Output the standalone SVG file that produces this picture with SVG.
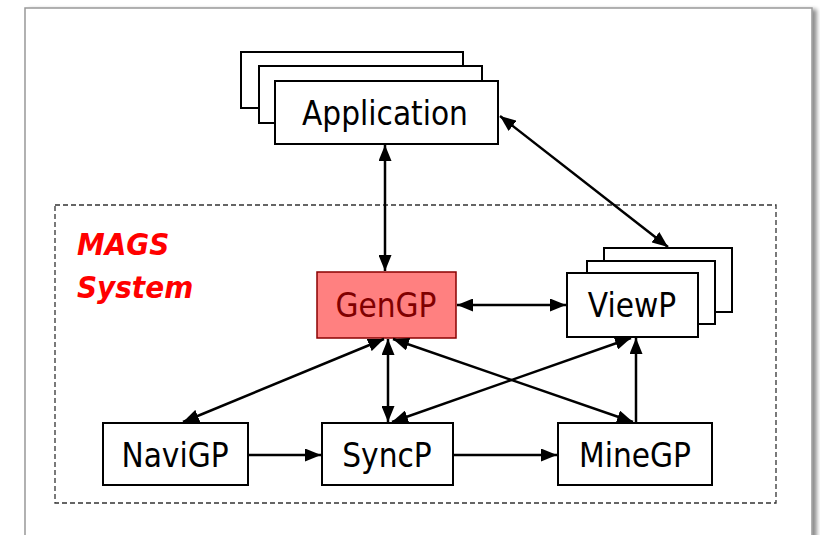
<svg xmlns="http://www.w3.org/2000/svg" width="820" height="535" viewBox="0 0 820 535">
  <defs>
    <marker id="arrow" viewBox="0 0 16 13" refX="16" refY="6.5" markerWidth="16" markerHeight="13" markerUnits="userSpaceOnUse" orient="auto-start-reverse">
      <path d="M0,0 L16,6.5 L0,13 Z" fill="#000"/>
    </marker>
    <filter id="shadow" x="-5%" y="-5%" width="115%" height="115%">
      <feGaussianBlur in="SourceAlpha" stdDeviation="2"/>
      <feOffset dx="4" dy="2"/>
      <feComponentTransfer><feFuncA type="linear" slope="0.45"/></feComponentTransfer>
      <feMerge><feMergeNode/><feMergeNode in="SourceGraphic"/></feMerge>
    </filter>
  </defs>
  <style>
    .box { fill: #fff; stroke: #000; stroke-width: 2; }
    .gen { fill: #ff8080; stroke: #8b0000; stroke-width: 1.5; }
    .label { font-family: "DejaVu Sans Condensed", "DejaVu Sans", sans-serif; font-stretch: condensed; font-size: 33px; fill: #000; text-anchor: middle; dominant-baseline: central; }
    .genlabel { fill: #800000; }
    .title { font-family: "DejaVu Sans Condensed", "DejaVu Sans", sans-serif; font-stretch: condensed; font-size: 31px; font-weight: bold; font-style: italic; fill: #ff0000; }
    .conn { fill: none; stroke: #000; stroke-width: 2.5; }
    .frame { fill: none; stroke: #333; stroke-width: 1.3; stroke-dasharray: 5 3; }
  </style>

  <!-- page -->
  <rect x="25" y="8" width="787" height="560" fill="#fff" stroke="#999" stroke-width="1.5" filter="url(#shadow)"/>

  <!-- system boundary -->
  <g id="mags-system">
    <rect class="frame" x="55" y="205" width="721" height="298"/>
    <text class="title" x="77" y="255">MAGS</text>
    <text class="title" x="77" y="298">System</text>
  </g>

  <g id="application">
    <rect class="box" x="241" y="52" width="222" height="56"/>
    <rect class="box" x="259" y="66" width="223" height="57"/>
    <rect class="box" x="275" y="81" width="223" height="63"/>
    <text class="label" x="385" y="113">Application</text>
  </g>

  <g id="gengp">
    <rect class="gen" x="317" y="272" width="139" height="66"/>
    <text class="label genlabel" x="386" y="305">GenGP</text>
  </g>

  <g id="viewp">
    <rect class="box" x="604" y="248" width="128" height="64"/>
    <rect class="box" x="587" y="261" width="128" height="63"/>
    <rect class="box" x="567" y="273" width="131" height="64"/>
    <text class="label" x="632" y="305">ViewP</text>
  </g>

  <g id="navigp">
    <rect class="box" x="103" y="423" width="145" height="62"/>
    <text class="label" x="175" y="455">NaviGP</text>
  </g>

  <g id="syncp">
    <rect class="box" x="322" y="423" width="131" height="62"/>
    <text class="label" x="387" y="455">SyncP</text>
  </g>

  <g id="minegp">
    <rect class="box" x="558" y="423" width="154" height="62"/>
    <text class="label" x="635" y="455">MineGP</text>
  </g>

  <g id="connectors">
    <line class="conn" x1="385" y1="145" x2="385" y2="271" marker-start="url(#arrow)" marker-end="url(#arrow)"/>
    <line class="conn" x1="500" y1="116" x2="668" y2="247" marker-start="url(#arrow)" marker-end="url(#arrow)"/>
    <line class="conn" x1="457" y1="305" x2="566" y2="305" marker-start="url(#arrow)" marker-end="url(#arrow)"/>
    <line class="conn" x1="384" y1="339" x2="183" y2="422" marker-start="url(#arrow)" marker-end="url(#arrow)"/>
    <line class="conn" x1="388" y1="339" x2="388" y2="422" marker-start="url(#arrow)" marker-end="url(#arrow)"/>
    <line class="conn" x1="393" y1="339" x2="633" y2="422" marker-start="url(#arrow)" marker-end="url(#arrow)"/>
    <line class="conn" x1="631" y1="338" x2="392" y2="422" marker-start="url(#arrow)" marker-end="url(#arrow)"/>
    <line class="conn" x1="636" y1="423" x2="636" y2="338" marker-end="url(#arrow)"/>
    <line class="conn" x1="249" y1="455" x2="321" y2="455" marker-end="url(#arrow)"/>
    <line class="conn" x1="454" y1="455" x2="557" y2="455" marker-end="url(#arrow)"/>
  </g>
</svg>
